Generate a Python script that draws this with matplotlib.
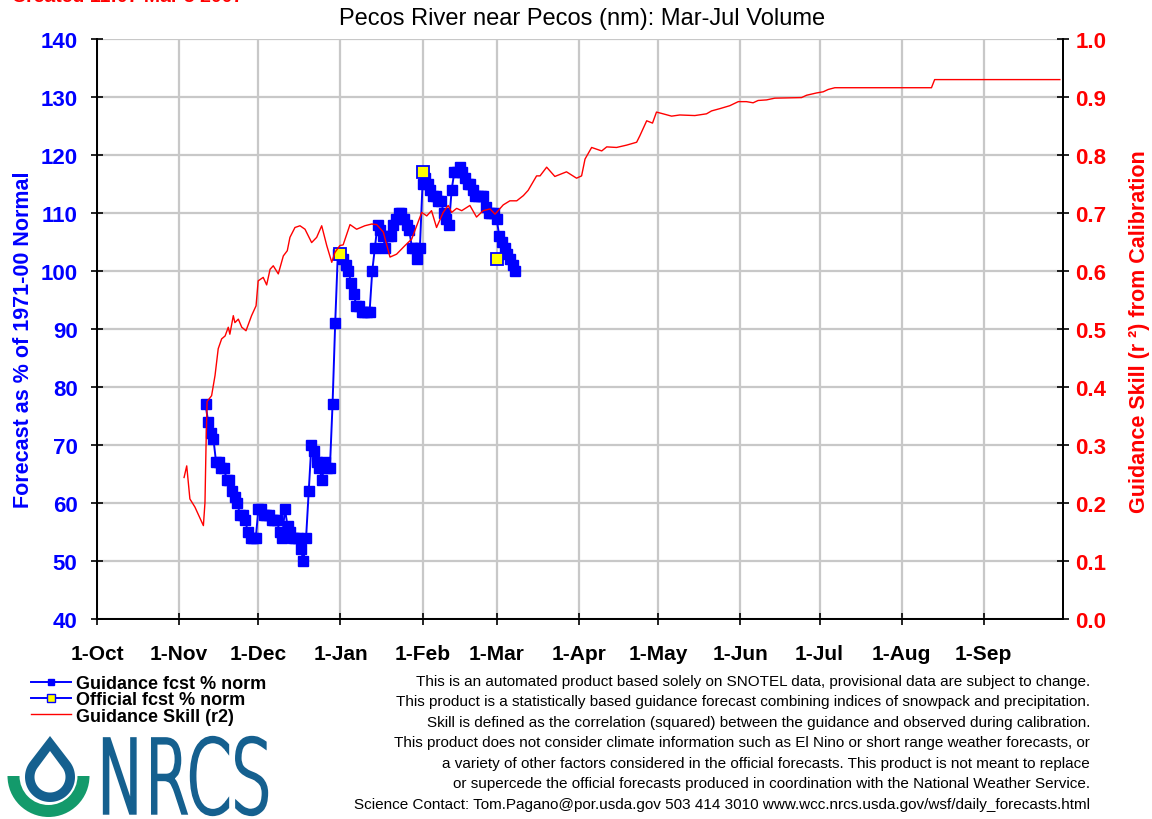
import numpy as np
import matplotlib
matplotlib.use('Agg')
import matplotlib.pyplot as plt
from matplotlib.lines import Line2D
from matplotlib.patches import Polygon, Wedge, PathPatch
from matplotlib.textpath import TextPath
from matplotlib.font_manager import FontProperties
from matplotlib.transforms import Affine2D

plt.rcParams['font.family'] = ['Liberation Sans', 'DejaVu Sans']

# water year 2007, x axis = days after 1-Oct-2006
month_labels = ['1-Oct', '1-Nov', '1-Dec', '1-Jan', '1-Feb', '1-Mar',
                '1-Apr', '1-May', '1-Jun', '1-Jul', '1-Aug', '1-Sep']
month_days = [31, 30, 31, 31, 28, 31, 30, 31, 30, 31, 31, 30]
month_starts = np.concatenate([[0], np.cumsum(month_days)])

# daily guidance forecast (% of normal), first value on 11-Nov
guidance_first_day = 41
guidance_pct = [77, 74, 72, 71, 67, 67, 66, 66, 64, 64,
                62, 61, 60, 58, 58, 57, 55, 54, 54, 54,
                59, 59, 58, 58, 58, 57, 57, 57, 55, 54,
                59, 56, 55, 54, 54, 54, 52, 50, 54, 62,
                70, 69, 67, 66, 64, 67, 66, 66, 77, 91,
                103, 103, 102, 101, 100, 98, 96, 94, 94, 93,
                93, 93, 93, 100, 104, 108, 107, 106, 104, 106,
                106, 108, 109, 110, 110, 109, 108, 107, 104, 104,
                102, 104, 115, 116, 115, 114, 113, 113, 112, 112,
                110, 109, 108, 114, 117, 117, 118, 117, 116, 115,
                115, 114, 113, 113, 113, 113, 111, 110, 110, 110,
                109, 106, 105, 104, 103, 102, 101, 100]

# official forecasts (1-Jan, 1-Feb, 1-Mar)
official_day = [92, 123, 151]
official_pct = [103, 117, 102]

# guidance skill r2
skill_day = [32.9, 33.9, 35.1, 37.0, 40.2, 40.8, 41.2, 41.6, 43.3, 44.6,
             45.8, 47.1, 48.4, 49.6, 50.2, 51.5, 52.1, 53.4, 54.7, 56.3,
             58.4, 60.1, 60.9, 62.8, 64.1, 65.4, 66.6, 68.5, 70.4, 71.9,
             72.9, 74.8, 76.7, 78.6, 81.1, 83.0, 84.9, 86.8, 88.7, 89.9,
             91.8, 93.0, 95.6, 98.1, 101.2, 103.8, 105.7, 108.2, 110.7, 113.2,
             116.4, 118.9, 122.7, 124.6, 126.4, 128.3, 130.8, 132.7, 134.0, 135.9,
             137.8, 140.9, 143.4, 145.9, 148.5, 150.4, 153.5, 156.0, 158.6, 161.1,
             162.9, 166.1, 167.4, 169.9, 173.0, 177.4, 181.2, 183.1, 184.4, 186.9,
             190.7, 192.6, 196.3, 200.1, 203.9, 205.1, 207.7, 209.9, 211.4, 213.9,
             217.1, 220.2, 225.9, 230.3, 232.2, 235.4, 239.1, 242.3, 245.4, 247.9,
             249.8, 253.0, 256.1, 266.2, 268.1, 271.9, 274.4, 276.3, 278.8, 315.3,
             316.5, 363.8]
skill_r2 = [0.244, 0.264, 0.207, 0.193, 0.161, 0.201, 0.300, 0.375, 0.385, 0.420,
            0.466, 0.483, 0.488, 0.503, 0.491, 0.523, 0.511, 0.517, 0.503, 0.497,
            0.523, 0.540, 0.583, 0.589, 0.576, 0.603, 0.609, 0.595, 0.626, 0.635,
            0.658, 0.675, 0.678, 0.672, 0.649, 0.658, 0.678, 0.644, 0.615, 0.632,
            0.644, 0.645, 0.680, 0.672, 0.678, 0.681, 0.680, 0.667, 0.624, 0.629,
            0.644, 0.655, 0.701, 0.695, 0.704, 0.675, 0.701, 0.713, 0.701, 0.708,
            0.704, 0.713, 0.693, 0.704, 0.707, 0.698, 0.714, 0.721, 0.721, 0.730,
            0.739, 0.764, 0.764, 0.779, 0.763, 0.771, 0.760, 0.764, 0.793, 0.813,
            0.807, 0.814, 0.813, 0.817, 0.822, 0.833, 0.859, 0.855, 0.874, 0.871,
            0.867, 0.869, 0.868, 0.871, 0.876, 0.880, 0.885, 0.892, 0.892, 0.890,
            0.894, 0.895, 0.898, 0.899, 0.903, 0.907, 0.909, 0.913, 0.916, 0.916,
            0.930, 0.930]

footnote = [
    "This is an automated product based solely on SNOTEL data, provisional data are subject to change.",
    "This product is a statistically based guidance forecast combining indices of snowpack and precipitation.",
    "Skill is defined as the correlation (squared) between the guidance and observed during calibration.",
    "This product does not consider climate information such as El Nino or short range weather forecasts, or",
    "a variety of other factors considered in the official forecasts. This product is not meant to replace",
    "or supercede the official forecasts produced in coordination with the National Weather Service.",
    "Science Contact: Tom.Pagano@por.usda.gov 503 414 3010 www.wcc.nrcs.usda.gov/wsf/daily_forecasts.html",
]

W, H = 1152, 820
fig = plt.figure(figsize=(W / 100, H / 100), dpi=100)
ax = fig.add_axes([97 / W, 200 / H, 966 / W, 580 / H])
ax2 = ax.twinx()

guidance_day = np.arange(guidance_first_day, guidance_first_day + len(guidance_pct))
ax.plot(guidance_day, guidance_pct, color='blue', lw=1.4, marker='s', ms=7,
        mfc='blue', mec='blue', zorder=3)
ax.plot(official_day, official_pct, ls='none', marker='s', ms=8, mfc='yellow',
        mec='blue', mew=1.3, zorder=4)
ax2.plot(skill_day, skill_r2, color='red', lw=1.0)

ax.set_xlim(0, 365)
ax.set_ylim(40, 140)
ax2.set_ylim(0, 1)
ax.set_xticks(month_starts[:12])
ax.set_xticklabels(month_labels)
ax.set_yticks(np.arange(40, 141, 10))
ax2.set_yticks(np.arange(0, 1.01, 0.1))
ax2.set_yticklabels([f'{v:.1f}' for v in np.arange(0, 1.01, 0.1)])
ax.grid(True, color='#c8c8c8', lw=1.6)
ax.set_axisbelow(True)

for a in (ax, ax2):
    a.spines['top'].set_visible(False)
    for s in ('left', 'right', 'bottom'):
        a.spines[s].set_linewidth(1.3)
ax.tick_params(axis='x', direction='inout', length=8, width=1.2, pad=14, labelsize=15)
ax.tick_params(axis='y', direction='inout', length=8, width=1.2, pad=10,
               labelsize=16, labelcolor='blue')
ax2.tick_params(axis='y', direction='inout', length=8, width=1.2, pad=5,
                labelsize=16, labelcolor='red')
for lab in ax.get_xticklabels() + ax.get_yticklabels() + ax2.get_yticklabels():
    lab.set_fontweight('bold')

fig.text(582 / W, 1 - 19 / H, 'Pecos River near Pecos (nm): Mar-Jul Volume',
         ha='center', va='center', fontsize=17)
fig.text(24 / W, 1 - 340 / H, 'Forecast as % of 1971-00 Normal', rotation=90,
         ha='center', va='center', fontsize=15.5, color='blue', fontweight='bold')
fig.text(1139 / W, 1 - 332 / H, 'Guidance Skill (r \u00b2) from Calibration', rotation=90,
         ha='center', va='center', fontsize=15.5, color='red', fontweight='bold')
fig.text(12 / W, 1 - 2 / H, 'Created 11:07 Mar 5 2007', color='red',
         fontweight='bold', fontsize=14, va='baseline', ha='left')

# legend
h1 = Line2D([], [], color='blue', lw=1.4, marker='s', ms=5, mfc='blue', mec='blue')
h2 = Line2D([], [], color='blue', lw=1.4, marker='s', ms=6, mfc='yellow', mec='blue')
h3 = Line2D([], [], color='red', lw=1.0)
fig.legend([h1, h2, h3], ['Guidance fcst % norm', 'Official fcst % norm', 'Guidance Skill (r2)'],
           loc='upper left', bbox_to_anchor=(31 / W, 1 - 676 / H), frameon=False,
           prop=FontProperties(family='Liberation Sans', weight='bold', size=13),
           handlelength=2.2, handletextpad=0.3, labelspacing=-0.04,
           borderpad=0, borderaxespad=0)

# footnote
for i, line in enumerate(footnote):
    fig.text(1090 / W, 1 - (682 + 20.5 * i) / H, line, ha='right', va='center',
             fontsize=11)

# NRCS logo, drawn in pixel units
lg = fig.add_axes([0, 0, 300 / W, 100 / H])
lg.set_xlim(0, 300)
lg.set_ylim(0, 100)
lg.axis('off')
navy = '#15608f'
green = '#139a6b'


def drop(cx, cy, r, tip):
    d = tip - cy
    alpha = np.degrees(np.arccos(r / d))
    th = np.radians(np.linspace(90 + alpha, 450 - alpha, 80))
    pts = [(cx, tip)] + list(zip(cx + r * np.cos(th), cy + r * np.sin(th)))
    return pts


lg.add_patch(Wedge((48.5, 43), 41, 180, 360, width=12, fc=green, ec='none'))
lg.add_patch(Polygon(drop(50, 42, 25, 83), closed=True, fc=navy, ec='none'))
lg.add_patch(Polygon(drop(50, 42, 15.5, 68), closed=True, fc='white', ec='none'))

tp = TextPath((0, 0), 'NRCS', size=1,
              prop=FontProperties(family='DejaVu Sans', weight='light'))
ext = tp.get_extents()
tr = (Affine2D().translate(-ext.x0, -ext.y0)
      .scale(162 / ext.width, 77 / ext.height).translate(104.5, 4.5))
lg.add_patch(PathPatch(tr.transform_path(tp), fc=navy, ec=navy, lw=2.4,
                       joinstyle='miter'))

fig.savefig('out.png', dpi=100)
